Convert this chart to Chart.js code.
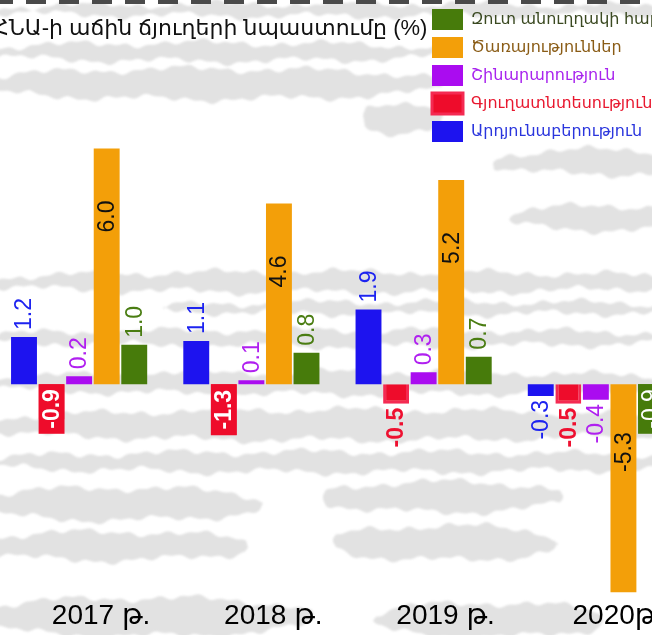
<!DOCTYPE html>
<html>
<head>
<meta charset="utf-8">
<script src="https://cdn.jsdelivr.net/npm/chart.js@4.4.1/dist/chart.umd.min.js"></script>
<style>
  html, body { margin: 0; padding: 0; overflow: hidden; background: #fff; }
  #wrap { position: absolute; left: -7px; top: 0; width: 700px; height: 635px; }
</style>
</head>
<body>
<div id="wrap"><canvas id="gdp"></canvas></div>
<script>
// contributions to GDP growth, percentage points
const years = ['2017 թ.', '2018 թ.', '2019 թ.', '2020թ.'];
const industry = [1.2, 1.1, 1.9, -0.3];
const agriculture = [-0.9, -1.3, -0.5, -0.5];
const construction = [0.2, 0.1, 0.3, -0.4];
const services = [6.0, 4.6, 5.2, -5.3];
const netTaxes = [1.0, 0.8, 0.7, -0.9];

const FONT = "'Liberation Sans', 'DejaVu Sans', sans-serif";

// legend text colours, by dataset index
const legendText = ['#2a35dd', '#e8182f', '#a824ee', '#8a5c16', '#3b4a22'];

// light grey brush streaks behind the chart: [x0, x1, yMid, halfThickness, phase]
const streaks = [
  [-20, 720, 10, 6, 0.3],
  [-20, 460, 52, 9, 1.1],
  [-20, 450, 84, 15, 2.0],
  [370, 450, 118, 16, 0.7],
  [500, 720, 162, 12, 1.5],
  [515, 720, 218, 12, 2.6],
  [-20, 720, 282, 10, 0.4],
  [170, 720, 308, 6, 1.9],
  [-20, 720, 338, 8, 2.8],
  [-20, 720, 383, 11, 1.2],
  [-20, 720, 425, 15, 0.1],
  [-20, 720, 462, 10, 2.3],
  [-20, 270, 504, 16, 1.7],
  [-20, 255, 546, 14, 0.9],
  [330, 570, 497, 15, 2.1],
  [340, 565, 543, 17, 0.5],
  [-20, 320, 617, 19, 1.4],
  [380, 610, 620, 17, 2.9]
];

function wobble(x, ph) {
  return 2.5 * Math.sin(x / 21 + ph) + 1.6 * Math.sin(x / 6.3 + ph * 3) + 1.2 * Math.sin(x / 3.1 + ph * 5);
}

const paper = {
  id: 'paper',
  beforeDraw(chart) {
    const {ctx, width} = chart;
    ctx.save();
    ctx.fillStyle = '#fff';
    ctx.fillRect(0, 0, width, chart.height);
    ctx.filter = 'blur(1px)';
    ctx.fillStyle = '#e2e2e2';
    for (const [x0, x1, ym, t, ph] of streaks) {
      const span = x1 - x0;
      const env = (x) => Math.pow(Math.sin(Math.PI * (x - x0) / span), 0.35);
      ctx.beginPath();
      for (let x = x0; x <= x1; x += 3) {
        ctx.lineTo(x, ym - t * env(x) + wobble(x, ph));
      }
      for (let x = x1; x >= x0; x -= 3) {
        ctx.lineTo(x, ym + t * env(x) + wobble(x, ph + 1.7));
      }
      ctx.closePath();
      ctx.fill();
    }
    ctx.filter = 'none';
    // dashed rule along the top edge
    ctx.strokeStyle = '#4a4a4a';
    ctx.lineWidth = 4;
    ctx.setLineDash([20, 13]);
    ctx.beginPath();
    ctx.moveTo(0, 2);
    ctx.lineTo(width, 2);
    ctx.stroke();
    ctx.restore();
  }
};

// move the legend to the top right corner
const legendSpot = {
  id: 'legendSpot',
  afterLayout(chart) {
    const lg = chart.legend;
    const w = lg.width, h = lg.height;
    lg.left = 432;
    lg.top = 2;
    lg.right = lg.left + w;
    lg.bottom = lg.top + h;
  }
};

// rotated value labels
const barLabels = {
  id: 'barLabels',
  afterDatasetsDraw(chart) {
    const ctx = chart.ctx;
    chart.data.datasets.forEach((ds, di) => {
      const meta = chart.getDatasetMeta(di);
      meta.data.forEach((bar, i) => {
        const v = ds.data[i];
        const txt = v.toFixed(1);
        const {x, y, base, width} = bar.getProps(['x', 'y', 'base', 'width'], true);
        ctx.save();
        ctx.font = (ds.labelBold ? 'bold ' : '') + '23px ' + FONT;
        const len = ctx.measureText(txt).width;
        const h = Math.abs(base - y);
        let ay, align = 'center', color = ds.labelColor;
        if (ds.labelInside) {
          ay = Math.min(y, base) + 68;
          color = '#111';
        } else if (v >= 0) {
          ay = y - 7;
          align = 'left';
        } else if (h >= 30) {
          const boxH = Math.max(h, len + 10);
          ctx.fillStyle = ds.backgroundColor;
          ctx.fillRect(x - width / 2, base, width, boxH);
          ay = base + boxH / 2;
          color = '#fff';
        } else {
          ay = y + 4;
          align = 'right';
        }
        ctx.translate(x, ay);
        ctx.rotate(-Math.PI / 2);
        ctx.textAlign = align;
        ctx.textBaseline = 'middle';
        ctx.fillStyle = color;
        ctx.fillText(txt, 0, 1);
        ctx.restore();
      });
    });
  }
};

new Chart(document.getElementById('gdp'), {
  type: 'bar',
  data: {
    labels: years,
    datasets: [
      { label: 'Արդյունաբերություն', data: industry, backgroundColor: '#1d13ef', borderWidth: 0, labelColor: '#1d23f0' },
      { label: 'Գյուղատնտեսություն', data: agriculture, backgroundColor: '#ee0c2b', borderColor: '#f42a52', borderWidth: 3, labelColor: '#ee1030', labelBold: true },
      { label: 'Շինարարություն', data: construction, backgroundColor: '#aa0cf0', borderWidth: 0, labelColor: '#b020f0' },
      { label: 'Ծառայություններ', data: services, backgroundColor: '#f39f09', borderWidth: 0, labelInside: true },
      { label: 'Զուտ անուղղակի հարկեր', data: netTaxes, backgroundColor: '#477b0b', borderWidth: 0, labelColor: '#4a7d12' }
    ]
  },
  options: {
    responsive: true,
    maintainAspectRatio: false,
    animation: false,
    layout: { padding: { left: 0, right: 11, top: 0, bottom: 0 } },
    datasets: {
      bar: { categoryPercentage: 0.8, barPercentage: 0.94 }
    },
    plugins: {
      title: {
        display: true,
        text: 'ՀՆԱ-ի աճին ճյուղերի նպաստումը (%)',
        align: 'start',
        color: '#111',
        font: { family: FONT, size: 22, weight: 'normal' },
        padding: { top: 16, bottom: 4 }
      },
      legend: {
        position: 'chartArea',
        align: 'start',
        reverse: true,
        labels: {
          boxWidth: 31,
          boxHeight: 21,
          padding: 7,
          font: { family: FONT, size: 16 },
          generateLabels: (chart) =>
            Chart.defaults.plugins.legend.labels.generateLabels(chart).map(item => {
              item.fontColor = legendText[item.datasetIndex];
              return item;
            })
        }
      },
      tooltip: { enabled: false }
    },
    scales: {
      x: {
        grid: { display: false, drawTicks: false },
        border: { display: false },
        ticks: {
          color: '#000',
          font: { family: FONT, size: 28 },
          padding: 2,
          labelOffset: 22
        }
      },
      y: {
        display: false,
        min: -5.43,
        max: 8.6
      }
    }
  },
  plugins: [paper, legendSpot, barLabels]
});
</script>
</body>
</html>
